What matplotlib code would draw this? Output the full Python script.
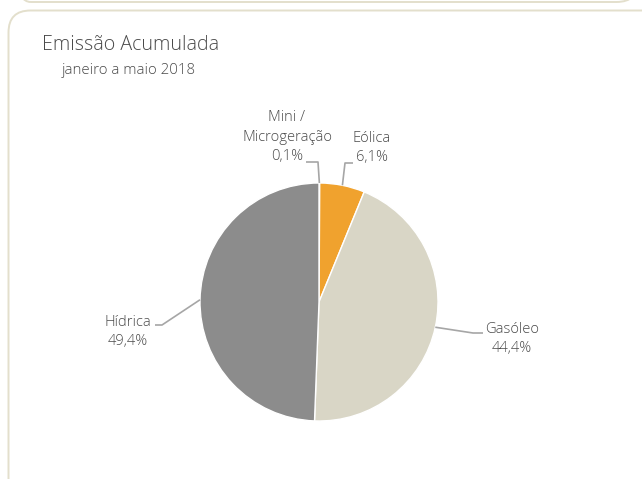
import numpy as np
import matplotlib.pyplot as plt
from matplotlib.patches import FancyBboxPatch

# Accumulated emission shares, Jan-May 2018
labels = ['Mini /\nMicrogeração', 'Eólica', 'Gasóleo', 'Hídrica']
shares = [0.1, 6.1, 44.4, 49.4]
colors = ['#A5A5A5', '#F0A22E', '#D9D6C6', '#8C8C8C']

# label centres and leader elbows, in pixels from the top-left corner
label_pos = [(287, 137), (372, 148), (512, 339), (128, 332)]
elbows = [[(318, 162), (306, 162)],
          [(345, 163), (353, 163)],
          [(473, 333), (483, 333)],
          [(162, 325), (155, 325)]]

W, H = 642, 479
plt.rcParams['font.family'] = ['Open Sans', 'DejaVu Sans']
txt = '#4a4a4a'

fig = plt.figure(figsize=(W / 100, H / 100), dpi=100)

def py(y):
    return H - y

# background axes holding the panel frames
bg = fig.add_axes([0, 0, 1, 1], zorder=0)
bg.set_xlim(0, W)
bg.set_ylim(0, H)
bg.axis('off')
edge = '#E3DFCC'
bg.add_patch(FancyBboxPatch((8.5, -40), 700, py(10.5) + 40,
                            boxstyle='round,pad=0,rounding_size=22',
                            fc='white', ec=edge, lw=1.4, clip_on=False))
bg.add_patch(FancyBboxPatch((8.5, py(2)), 630, 120,
                            boxstyle='round,pad=0,rounding_size=22',
                            fc='none', ec=edge, lw=1.4, clip_on=False))

ax = fig.add_axes([0, 0, 1, 1], zorder=1)
ax.patch.set_alpha(0)

ax.text(42, py(45), 'Emissão Acumulada', fontsize=14.1, color=txt,
        fontweight='light', va='center', ha='left')
ax.text(62, py(70), 'janeiro a maio 2018', fontsize=10.8, color=txt,
        fontweight='light', va='center', ha='left')

cx, cy, r = 319, py(302), 119
wedges, _ = ax.pie(shares, colors=colors, startangle=90, counterclock=False,
                   center=(cx, cy), radius=r, frame=True,
                   wedgeprops=dict(edgecolor='white', linewidth=1.0))

for w, lab, v, (lx, ly), elb in zip(wedges, labels, shares, label_pos, elbows):
    ang = np.deg2rad((w.theta1 + w.theta2) / 2)
    ax0 = cx + r * np.cos(ang)
    ay0 = cy + r * np.sin(ang)
    xs = [ax0] + [p[0] for p in elb]
    ys = [ay0] + [py(p[1]) for p in elb]
    ax.plot(xs, ys, color='#A6A6A6', lw=1.2, solid_capstyle='butt')
    pct = f'{v:.1f}%'.replace('.', ',')
    ax.text(lx, py(ly), f'{lab}\n{pct}', fontsize=10.6, color=txt,
            fontweight='light', ha='center', va='center', linespacing=1.4)

ax.set_xlim(0, W)
ax.set_ylim(0, H)
ax.set_aspect('equal')
ax.axis('off')

fig.savefig('out.png', dpi=100, facecolor='white')
